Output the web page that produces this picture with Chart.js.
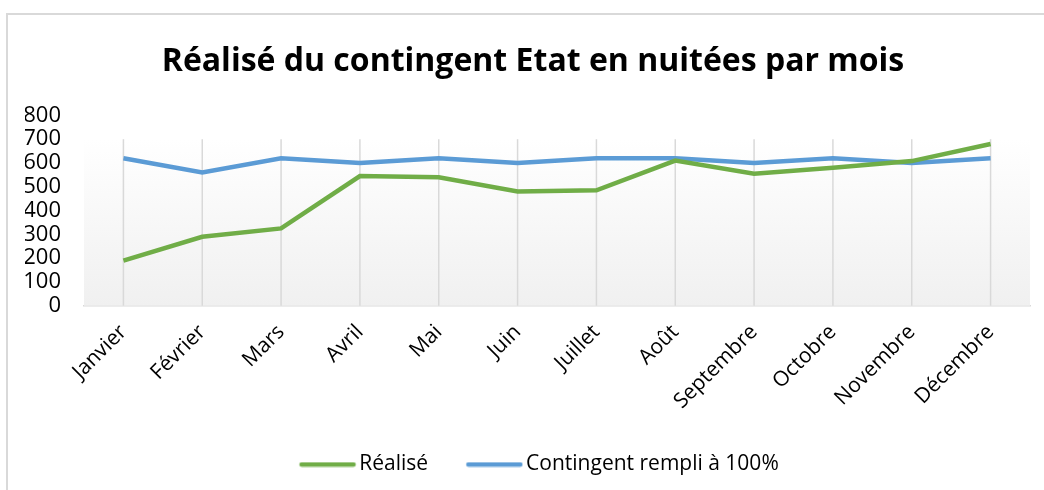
<!DOCTYPE html>
<html>
<head>
<meta charset="utf-8">
<script src="https://cdn.jsdelivr.net/npm/chart.js@4.4.1/dist/chart.umd.min.js"></script>
<style>
  html, body { margin: 0; padding: 0; background: #fff; }
  body { width: 1044px; height: 490px; position: relative; overflow: hidden; }
  #frame { position: absolute; left: 6px; top: 13px; width: 1100px; height: 500px;
           border-left: 2px solid #d9d9d9; border-top: 2px solid #d9d9d9; }
  #wrap { position: absolute; left: 0; top: 0; width: 1044px; height: 490px; }
</style>
</head>
<body>
<div id="frame"></div>
<div id="wrap"><canvas id="c"></canvas></div>
<script>
const mois = ['Janvier', 'Février', 'Mars', 'Avril', 'Mai', 'Juin', 'Juillet', 'Août',
              'Septembre', 'Octobre', 'Novembre', 'Décembre'];
const realise = [190, 290, 325, 545, 540, 480, 485, 610, 555, 580, 608, 680];
const contingent = [620, 560, 620, 600, 620, 600, 620, 620, 600, 620, 600, 620];

const font = '"Open Sans", "DejaVu Sans", sans-serif';
const vert = '#70ad47', bleu = '#5b9bd5';

// petit trait de legende, cale a droite pour coller au texte
function legendLine(color) {
    const cv = document.createElement('canvas');
    cv.width = 77; cv.height = 6;
    const c = cv.getContext('2d');
    c.strokeStyle = color;
    c.lineWidth = 4.5;
    c.lineCap = 'round';
    c.beginPath();
    c.moveTo(cv.width - 55, 3);
    c.lineTo(cv.width - 3, 3);
    c.stroke();
    return cv;
}

// fond en degrade + traits verticaux du cadre de trace (le cadre s'arrete a 700)
const plotBg = {
    id: 'plotBg',
    beforeDatasetsDraw(chart) {
        const a = chart.chartArea, ctx = chart.ctx;
        const x = chart.scales.x, top = chart.scales.y.getPixelForValue(700);
        const g = ctx.createLinearGradient(0, top, 0, a.bottom);
        g.addColorStop(0, '#ffffff');
        g.addColorStop(1, '#f0f0f0');
        ctx.save();
        ctx.fillStyle = g;
        ctx.fillRect(a.left, top, a.right - a.left, a.bottom - top);
        ctx.strokeStyle = '#d9d9d9';
        ctx.lineWidth = 1.5;
        x.ticks.forEach((t, i) => {
            const px = x.getPixelForTick(i);
            ctx.beginPath();
            ctx.moveTo(px, top);
            ctx.lineTo(px, a.bottom);
            ctx.stroke();
        });
        ctx.restore();
    }
};

new Chart('c', {
    type: 'line',
    data: {
        labels: mois,
        datasets: [
            { label: 'Réalisé', data: realise, borderColor: vert, backgroundColor: vert,
              borderWidth: 4.5, pointRadius: 0, tension: 0 },
            { label: 'Contingent rempli à 100%', data: contingent, borderColor: bleu,
              backgroundColor: bleu, borderWidth: 4.5, pointRadius: 0, tension: 0 }
        ]
    },
    options: {
        responsive: true,
        maintainAspectRatio: false,
        animation: false,
        layout: { padding: { left: 25, right: 3, top: 0, bottom: 5 } },
        plugins: {
            title: {
                display: true,
                text: 'Réalisé du contingent Etat en nuitées par mois',
                color: '#000',
                font: { family: font, size: 32, weight: 'bold' },
                padding: { top: 43, bottom: 34 }
            },
            legend: {
                position: 'bottom',
                labels: {
                    color: '#000',
                    font: { family: font, size: 21 },
                    usePointStyle: true,
                    pointStyleWidth: 61.5,
                    padding: 26,
                    generateLabels(chart) {
                        return chart.data.datasets.map((ds, i) => ({
                            text: ds.label,
                            datasetIndex: i,
                            fontColor: '#000',
                            pointStyle: legendLine(ds.borderColor),
                            hidden: false
                        }));
                    }
                }
            },
            tooltip: { enabled: false }
        },
        scales: {
            x: {
                offset: true,
                grid: { display: false, drawTicks: false },
                border: { color: '#d9d9d9', width: 1.5 },
                ticks: {
                    color: '#000',
                    font: { family: font, size: 21 },
                    minRotation: 45, maxRotation: 45,
                    autoSkip: false,
                    padding: 14
                },
                afterFit(scale) { scale.paddingLeft = 0; scale.paddingRight = 0; }
            },
            y: {
                min: 0, max: 800,
                grid: { display: false, drawTicks: false },
                border: { display: false },
                ticks: {
                    stepSize: 100,
                    autoSkip: false,
                    color: '#000',
                    font: { family: font, size: 22 },
                    padding: 23
                },
                afterFit(scale) { scale.width = 59; }
            },
            y2: {
                position: 'right',
                grid: { display: false, drawTicks: false },
                border: { display: false },
                ticks: { display: false },
                afterFit(scale) { scale.width = 11; }
            }
        }
    },
    plugins: [plotBg]
});
</script>
</body>
</html>
